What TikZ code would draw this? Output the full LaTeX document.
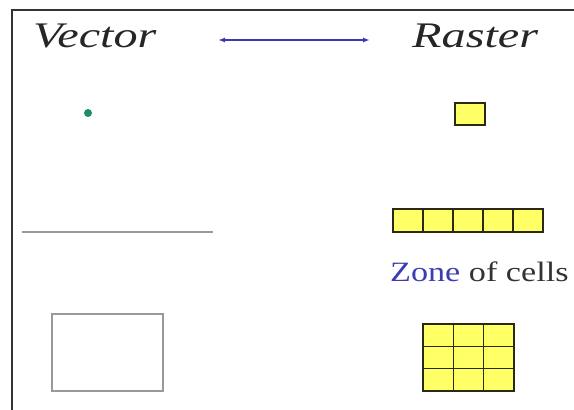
\documentclass[tikz,border=0pt]{standalone}
\usepackage{fontspec}
\setmainfont{Liberation Serif}
\usetikzlibrary{arrows.meta}
\definecolor{frameline}{HTML}{333333}
\definecolor{arrowblue}{HTML}{3A3AB0}
\definecolor{zoneblue}{HTML}{3C3CB4}
\definecolor{dotgreen}{HTML}{1E8C6E}
\definecolor{cellfill}{HTML}{FFFF66}
\definecolor{cellline}{HTML}{2A2A10}
\definecolor{vecgray}{HTML}{999999}
\tikzset{
  heading/.style={anchor=base west, inner sep=0pt, text=black!85},
  cell/.style={fill=cellfill, draw=cellline, line width=1.2pt},
  vecline/.style={draw=vecgray, line width=1.4pt},
}
\begin{document}
\begin{tikzpicture}[x=1pt, y=-1pt]
  \useasboundingbox (0,0) rectangle (574,410);
  % frame on the top and left
  \draw[frameline, line width=2pt] (12,410) -- (12,10) -- (574,10);

  % headings and the two-way arrow
  \node[heading] (vec) at (33,47) {\scalebox{1.34}[1]{\fontsize{36}{36}\selectfont\itshape Vector}};
  \node[heading] (ras) at (412,47) {\scalebox{1.34}[1]{\fontsize{36}{36}\selectfont\itshape Raster}};
  \coordinate (al) at (218,40);
  \coordinate (ar) at (370,40);
  \draw[arrowblue, line width=1.4pt, {Latex[length=7pt,width=5pt]}-{Latex[length=7pt,width=5pt]}] (al) -- (ar);

  % point
  \node[circle, fill=dotgreen, inner sep=0pt, minimum size=8pt] (pt) at (88,113) {};
  \filldraw[cell] (455,103) rectangle (485,125);

  % line
  \coordinate (l1) at (22,232);
  \coordinate (l2) at (213,232);
  \draw[vecline] (l1) -- (l2);
  \foreach \i in {0,...,4} {
    \filldraw[cell] (393+30*\i,209) rectangle (423+30*\i,232);
  }

  % zone
  \node[anchor=base west, inner sep=0pt] (zone) at (390,281)
    {\scalebox{1.22}[1]{\fontsize{28}{28}\selectfont\textcolor{zoneblue}{Zone} \textcolor{black!80}{of cells}}};
  \draw[vecline] (52,314) rectangle (163,391);
  \foreach \i in {0,1,2} {
    \foreach \j in {0,1,2} {
      \filldraw[cell] (423+30.3*\i,324+22.3*\j) rectangle (453.3+30.3*\i,346.3+22.3*\j);
    }
  }
\end{tikzpicture}
\end{document}
